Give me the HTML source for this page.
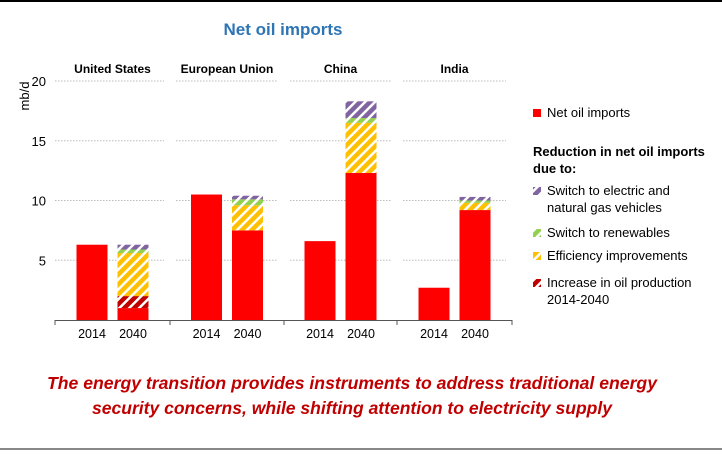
<!DOCTYPE html>
<html><head><meta charset="utf-8"><style>
body{margin:0;background:#fff;width:722px;height:451px;overflow:hidden;font-family:"Liberation Sans",sans-serif}
</style></head><body>
<svg id="chart" width="722" height="451" viewBox="0 0 722 451" xmlns="http://www.w3.org/2000/svg" font-family="Liberation Sans, sans-serif">
<defs>
<pattern id="hp" width="7" height="7" patternUnits="userSpaceOnUse" patternTransform="rotate(45)"><rect width="7" height="7" fill="#8064A2"/><rect width="2.5" height="7" fill="#fff"/></pattern>
<pattern id="hg" width="7" height="7" patternUnits="userSpaceOnUse" patternTransform="rotate(45)"><rect width="7" height="7" fill="#92D050"/><rect width="2.5" height="7" fill="#fff"/></pattern>
<pattern id="hy" width="7" height="7" patternUnits="userSpaceOnUse" patternTransform="rotate(45)"><rect width="7" height="7" fill="#FFC000"/><rect width="2.5" height="7" fill="#fff"/></pattern>
<pattern id="hr" width="7" height="7" patternUnits="userSpaceOnUse" patternTransform="rotate(45)"><rect width="7" height="7" fill="#C00000"/><rect width="2.5" height="7" fill="#fff"/></pattern>
</defs>
<rect x="0" y="0" width="722" height="2" fill="#000"/>
<rect x="0" y="448" width="722" height="2" fill="#888"/>
<text x="283" y="35" text-anchor="middle" font-size="17" font-weight="bold" fill="#2E75B6">Net oil imports</text>
<text transform="translate(29,96) rotate(-90)" text-anchor="middle" font-size="13" fill="#000">mb/d</text>
<g id="grid"></g><g id="bars"></g><g id="axis"></g>
<g font-size="13" fill="#000">
<rect x="533" y="109" width="8" height="8" fill="#FF0000"/>
<text x="547" y="117">Net oil imports</text>
<text x="533" y="156" font-weight="bold">Reduction in net oil imports</text>
<text x="533" y="173" font-weight="bold">due to:</text>
<rect x="533" y="187" width="8" height="8" fill="url(#hp)"/>
<text x="547" y="195">Switch to electric and</text>
<text x="547" y="212">natural gas vehicles</text>
<rect x="533" y="229" width="8" height="8" fill="url(#hg)"/>
<text x="547" y="237">Switch to renewables</text>
<rect x="533" y="252" width="8" height="8" fill="url(#hy)"/>
<text x="547" y="260">Efficiency improvements</text>
<rect x="533" y="279" width="8" height="8" fill="url(#hr)"/>
<text x="547" y="287">Increase in oil production</text>
<text x="547" y="304">2014-2040</text>
</g>
<g fill="#C00000" font-size="17.5" font-weight="bold" font-style="italic">
<text x="47" y="389" textLength="610" lengthAdjust="spacingAndGlyphs">The energy transition provides instruments to address traditional energy</text>
<text x="92" y="414" textLength="520" lengthAdjust="spacingAndGlyphs">security concerns, while shifting attention to electricity supply</text>
</g>
</svg>
<script>
const regions = ["United States","European Union","China","India"];
const years = ["2014","2040"];
const imports2014 = [6.3,10.5,6.6,2.7];
const imports2040 = [1.0,7.5,12.3,9.2];
const production = [1.0,0,0,0];
const efficiency = [3.6,2.1,4.2,0.6];
const renewables = [0.3,0.5,0.4,0.2];
const vehicles = [0.4,0.3,1.4,0.3];
const yTicks = [5,10,15,20];

const NS="http://www.w3.org/2000/svg";
const y0=320, pxPer=11.95;
const y=v=>y0-v*pxPer;
const panelX=[55,170,284,397,512];
const barW=31;
function mk(tag,attrs,parent){const e=document.createElementNS(NS,tag);for(const k in attrs)e.setAttribute(k,attrs[k]);parent.appendChild(e);return e;}
const grid=document.getElementById('grid'),bars=document.getElementById('bars'),axis=document.getElementById('axis');
yTicks.forEach(t=>{
  const lab=mk('text',{x:46,y:y(t)+5,'text-anchor':'end','font-size':13,fill:'#000'},axis);
  lab.textContent=t;
  
  
  for(let i=0;i<4;i++){
    const l=mk('line',{x1:panelX[i]+(i?6:0),x2:panelX[i+1]-6,y1:y(t),y2:y(t),stroke:'#bbb','stroke-dasharray':'1.5,1.5','stroke-width':1},grid);
    
    
  }
});
const base=mk('line',{x1:55,x2:512,y1:y0+0.5,y2:y0+0.5,stroke:'#555','stroke-width':1},axis);


panelX.forEach(px=>{const t=mk('line',{x1:px,x2:px,y1:y0,y2:y0+5,stroke:'#555'},axis);
  
  });
regions.forEach((r,i)=>{
  const cx=(panelX[i]+panelX[i+1])/2;
  const h=mk('text',{x:cx,y:73,'text-anchor':'middle','font-size':12,'font-weight':'bold',fill:'#000'},axis);
  h.textContent=r;
  
  
  const x1=cx-36, x2=cx+5;
  years.forEach((yr,j)=>{const t=mk('text',{x:(j?x2:x1)+barW/2,y:338,'text-anchor':'middle','font-size':12.5,fill:'#000'},axis);
    t.textContent=yr;
    
    });
  const b1=mk('rect',{x:x1,y:y(imports2014[i]),width:barW,height:imports2014[i]*pxPer,fill:'#FF0000'},bars);
  
  
  const segs=[[imports2040[i],'#FF0000','net-imports'],[production[i],'url(#hr)','production'],[efficiency[i],'url(#hy)','efficiency'],[renewables[i],'url(#hg)','renewables'],[vehicles[i],'url(#hp)','vehicles']];
  let acc=0;
  segs.forEach(s=>{ if(s[0]<=0)return;
    const r2=mk('rect',{x:x2,y:y(acc+s[0]),width:barW,height:s[0]*pxPer,fill:s[1]},bars);
    
    
    acc+=s[0];});
});
</script>
</body></html>
